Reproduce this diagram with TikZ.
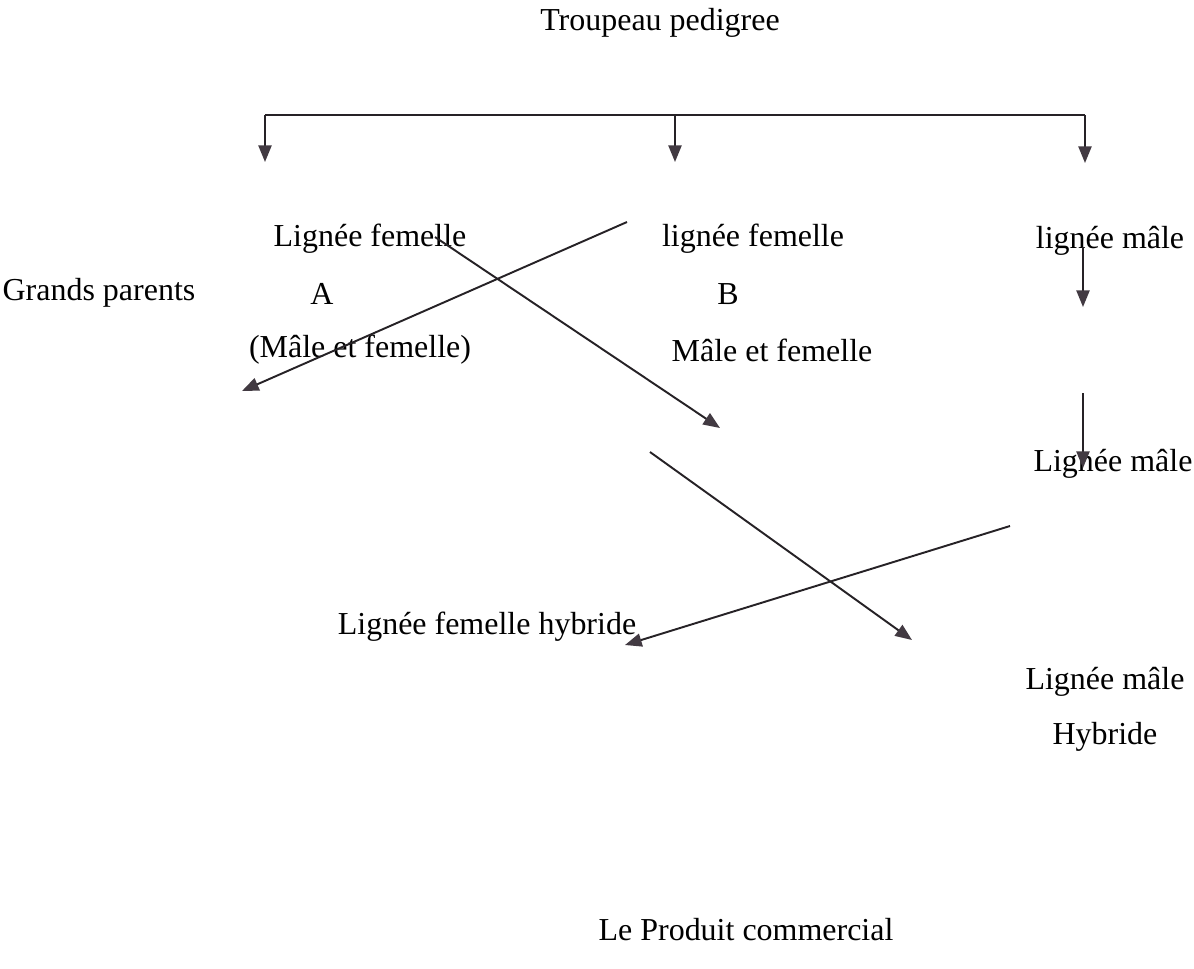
\documentclass[tikz,border=0pt]{standalone}
\usepackage{fontspec}
\setmainfont{Liberation Serif}
\usetikzlibrary{arrows.meta}
\definecolor{inkline}{RGB}{38,34,38}
\definecolor{inkhead}{RGB}{66,58,66}
\tikzset{
  txt/.style={inner sep=0pt, font=\fontsize{18.2}{22}\selectfont},
  flow/.style={draw=inkline, line width=1.1pt,
    -{Triangle[length=9.5pt, width=7.5pt, fill=inkhead, color=inkhead]}}
}
\begin{document}
\begin{tikzpicture}[x=0.02cm, y=-0.02cm]
  \useasboundingbox (0,0) rectangle (1194,968);
  % texts
  \draw
    (660,23) node[txt] (title){Troupeau pedigree}
    (99,293) node[txt] (gp){Grands parents}
    (370,239) node[txt] (lfA){Lignée femelle}
    (322,294) node[txt] (A){A}
    (360,350) node[txt] (mfA){(Mâle et femelle)}
    (753,239) node[txt] (lfB){lignée femelle}
    (728,294) node[txt] (B){B}
    (772,350) node[txt] (mfB){Mâle et femelle}
    (1110,241) node[txt] (lm){lignée mâle}
    (1113,464) node[txt] (lm2){Lignée mâle}
    (487,627) node[txt] (lfh){Lignée femelle hybride}
    (1105,682) node[txt] (lmh){Lignée mâle}
    (1105,737) node[txt] (hyb){Hybride}
    (746,930) node[txt] (prod){Le Produit commercial};
  % free ends
  \coordinate (barL) at (265,115);
  \coordinate (barM) at (675,115);
  \coordinate (barR) at (1085,115);
  \coordinate (tipL) at (265,162);
  \coordinate (tipM) at (675,162);
  \coordinate (tipR) at (1085,163);
  \coordinate (crossB) at (627,222);
  \coordinate (crossBend) at (242,391);
  \coordinate (crossA) at (435,237);
  \coordinate (crossAend) at (720,428);
  \coordinate (lmTop) at (1083,247);
  \coordinate (lmMid) at (1083,307);
  \coordinate (lmLow) at (1083,393);
  \coordinate (lmEnd) at (1083,468);
  \coordinate (hybA) at (650,452);
  \coordinate (hybAend) at (912,640);
  \coordinate (hybB) at (1010,526);
  \coordinate (hybBend) at (625,645);
  \begin{scope}[line width=1.1pt, draw=inkline]
    \draw (barL) -- (barR);
    \draw[flow] (barL) -- (tipL);
    \draw[flow] (barM) -- (tipM);
    \draw[flow] (barR) -- (tipR);
    \draw[flow] (crossB) -- (crossBend);
    \draw[flow] (crossA) -- (crossAend);
    \draw[flow] (lmTop) -- (lmMid);
    \draw[flow] (lmLow) -- (lmEnd);
    \draw[flow] (hybA) -- (hybAend);
    \draw[flow] (hybB) -- (hybBend);
  \end{scope}
\end{tikzpicture}
\end{document}
